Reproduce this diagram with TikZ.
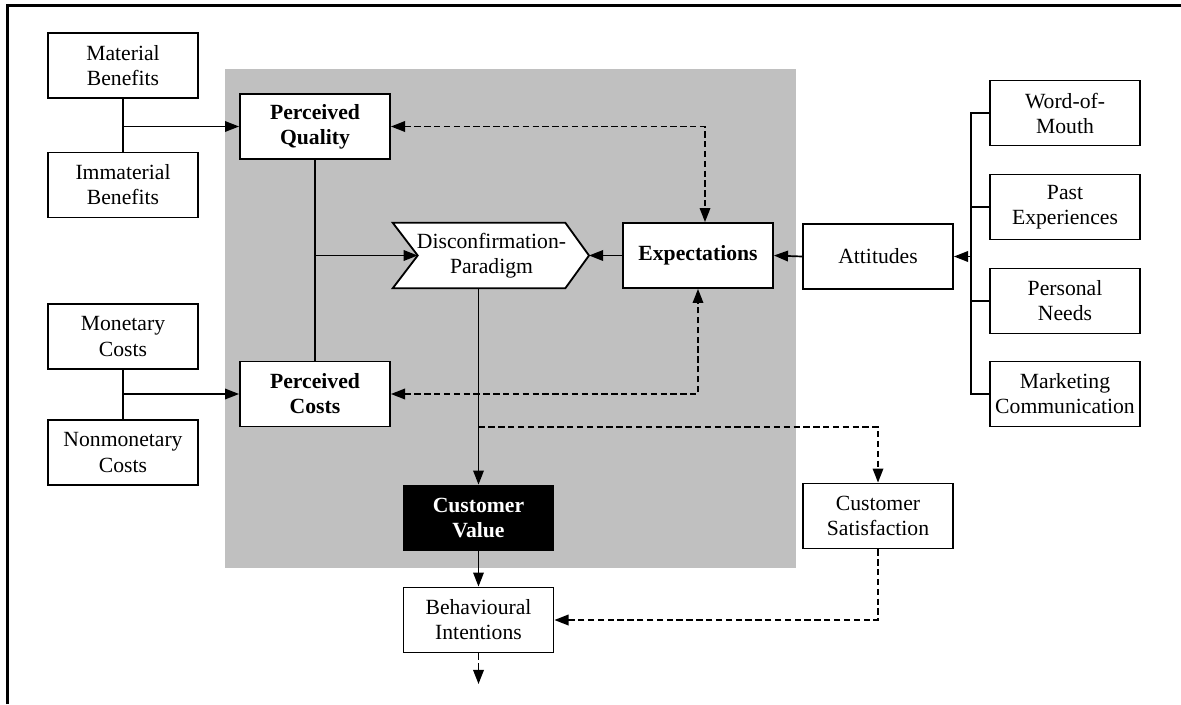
\documentclass[tikz,border=0pt]{standalone}
\usepackage{fontspec}
\setmainfont{Liberation Serif}
\usepackage{tikz}
\usetikzlibrary{arrows.meta}
\newcommand\boxfont{\fontsize{15.4}{17.8}\selectfont}
\definecolor{panelgray}{HTML}{C0C0C0}
\tikzset{
  box/.style={draw, line width=1.3pt, fill=white, minimum width=3.75cm,
    minimum height=1.625cm, inner sep=0pt, align=center, font=\boxfont},
  keybox/.style={box, font=\boxfont\bfseries},
  link/.style={line width=1.2pt},
  arr/.style={link, -{Triangle[length=10pt,width=7.5pt]}},
  darr/.style={arr, dash pattern=on 4.5pt off 2.5pt},
  ddarr/.style={link, dash pattern=on 4.5pt off 2.5pt,
    {Triangle[length=10pt,width=7.5pt]}-{Triangle[length=10pt,width=7.5pt]}}
}
\begin{document}
\begin{tikzpicture}[x=0.025cm, y=-0.025cm]
        \useasboundingbox (0,0) rectangle (1181,704);
        \draw[line width=2.1pt] (7.5,704) -- (7.5,5.5) -- (1181,5.5);
        \fill[panelgray] (225,69) rectangle (796,568);

        \node[box] (mb) at (123,65.5) {Material\\Benefits};
        \node[box] (ib) at (123,185) {Immaterial\\Benefits};
        \node[box] (mc) at (123,336.5) {Monetary\\Costs};
        \node[box] (nc) at (123,452.5) {Nonmonetary\\Costs};
        \node[keybox] (pq) at (315,126.5) {Perceived\\Quality};
        \node[keybox] (pc) at (315,394) {Perceived\\Costs};

        \node[minimum width=3.675cm, minimum height=1.625cm, inner sep=0pt,
          align=center, font=\boxfont] (dp) at (491.5,255.5) {};
        \coordinate (dptip) at (589,255.5);
        \draw[line width=1.3pt, fill=white] ([xshift=-0.625cm]dp.north west) -- (dp.north east)
          -- (dptip) -- (dp.south east) -- ([xshift=-0.625cm]dp.south west) -- (dp.west) -- cycle;
        \node[align=center, font=\boxfont] at (dp) {Disconfirmation-\\Paradigm};

        \node[keybox] (ex) at (698,255.5) {Expectations};
        \node[box] (at) at (878,256.5) {Attitudes};
        \node[box] (wm) at (1065,113) {Word-of-\\Mouth};
        \node[box] (pe) at (1065,207) {Past\\Experiences};
        \node[box] (pn) at (1065,301) {Personal\\Needs};
        \node[box] (mk) at (1065,394) {Marketing\\Communication};

        \node[keybox, fill=black, text=white] (cv) at (478.5,518) {Customer\\Value};
        \node[box] (cs) at (878,516) {Customer\\Satisfaction};
        \node[box] (bi) at (478.5,620) {Behavioural\\Intentions};
        \coordinate (sp) at (478.5,427);
        \coordinate (out) at (478.5,684);

        \draw[link] (mb.south) -- (ib.north);
        \draw[arr] (mb.south |- pq.west) -- (pq.west);
        \draw[link] (mc.south) -- (nc.north);
        \draw[arr] (mc.south |- pc.west) -- (pc.west);
        \draw[link] (pq.south) -- (pc.north);
        \draw[arr] (pq.south |- dp.west) -- (dp.west);
        \draw[arr] (ex.west) -- (dptip);
        \draw[arr] (at.west) -- (ex.east);

        \draw[link] (wm.west) -- ++(-18,0) |- (mk.west);
        \draw[link] (pe.west) -- ++(-18,0);
        \draw[link] (pn.west) -- ++(-18,0);
        \draw[arr] ([xshift=-0.45cm]pe.west |- at.east) -- (at.east);

        \draw[ddarr] (pq.east) -| ([xshift=0.175cm]ex.north);
        \draw[ddarr] (pc.east) -| (ex.south);

        \draw[arr] (dp.south -| cv.north) -- (cv.north);
        \draw[darr] (sp) -| (cs.north);
        \draw[arr] (cv.south) -- (bi.north);
        \draw[darr] (cs.south) |- (bi.east);
        \draw[darr] (bi.south) -- (out);
      \end{tikzpicture}
\end{document}
